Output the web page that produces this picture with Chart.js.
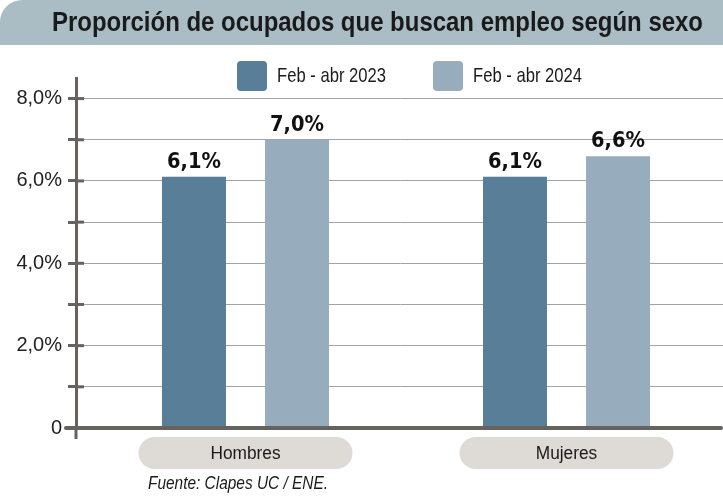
<!DOCTYPE html>
<html>
<head>
<meta charset="utf-8">
<script src="https://cdn.jsdelivr.net/npm/chart.js@4.4.1/dist/chart.umd.min.js"></script>
<style>
  html, body { margin: 0; padding: 0; background: #fff; }
  #wrap { width: 723px; height: 498px; position: relative; }
</style>
</head>
<body>
<div id="wrap"><canvas id="grafico"></canvas></div>
<script>
// Datos del gráfico
const titulo = 'Proporción de ocupados que buscan empleo según sexo';
const fuente = 'Fuente: Clapes UC / ENE.';
const categorias = ['Hombres', 'Mujeres'];
const series = ['Feb - abr 2023', 'Feb - abr 2024'];
const valores2023 = [6.1, 6.1];
const valores2024 = [7.0, 6.6];
const colores = ['#587e98', '#97adbe'];
const ticksY = [0, 1, 2, 3, 4, 5, 6, 7, 8];

const EJE = '#66625e';
const FUENTE_TXT = '"Liberation Sans", Arial, sans-serif';

function fmtPct(v) {
  return v.toFixed(1).replace('.', ',') + '%';
}

// Banda de título, leyenda, etiquetas, píldoras de categorías y fuente
const decoracion = {
  id: 'decoracion',
  beforeDraw(chart) {
    const ctx = chart.ctx;
    ctx.save();
    ctx.fillStyle = '#fff';
    ctx.fillRect(0, 0, chart.width, chart.height);
    // banda del título
    ctx.fillStyle = '#aabdc4';
    ctx.beginPath();
    ctx.roundRect(0, 0, chart.width + 30, 45, [22, 0, 0, 0]);
    ctx.fill();
    ctx.fillStyle = '#1a1a1a';
    ctx.font = 'bold 27px ' + FUENTE_TXT;
    ctx.textBaseline = 'alphabetic';
    ctx.textAlign = 'left';
    ctx.fillText(titulo, 52, 31, 651);
    // leyenda
    const posLeyenda = [237, 433];
    ctx.font = '21px ' + FUENTE_TXT;
    series.forEach((s, i) => {
      ctx.fillStyle = colores[i];
      ctx.beginPath();
      ctx.roundRect(posLeyenda[i], 61, 30, 30, 4);
      ctx.fill();
      ctx.fillStyle = '#1a1a1a';
      ctx.fillText(s, posLeyenda[i] + 40, 82, 109);
    });
    ctx.restore();
  },
  afterDatasetsDraw(chart) {
    const ctx = chart.ctx;
    const y = chart.scales.y;
    const area = chart.chartArea;
    const y0 = y.getPixelForValue(0);
    ctx.save();
    ctx.strokeStyle = EJE;
    // extensión del eje vertical bajo el cero
    ctx.lineWidth = 3;
    ctx.beginPath();
    ctx.moveTo(area.left, y0);
    ctx.lineTo(area.left, y0 + 11);
    ctx.stroke();
    // marcas a la derecha del eje
    y.ticks.forEach(t => {
      if (t.value === 0) return;
      const py = y.getPixelForValue(t.value);
      ctx.beginPath();
      ctx.moveTo(area.left, py);
      ctx.lineTo(area.left + 8, py);
      ctx.stroke();
    });
    // línea del cero
    ctx.lineWidth = 4;
    ctx.lineCap = 'round';
    ctx.beginPath();
    ctx.moveTo(area.left - 10, y0);
    ctx.lineTo(area.right - 2, y0);
    ctx.stroke();
    // etiquetas de valores
    ctx.fillStyle = '#111';
    ctx.font = 'bold 21px "DejaVu Sans", sans-serif';
    ctx.textAlign = 'center';
    ctx.textBaseline = 'alphabetic';
    chart.data.datasets.forEach((ds, di) => {
      chart.getDatasetMeta(di).data.forEach((bar, i) => {
        ctx.fillText(fmtPct(ds.data[i].y), bar.x, bar.y - 9, 54);
      });
    });
    ctx.restore();
  },
  afterDraw(chart) {
    const ctx = chart.ctx;
    const x = chart.scales.x;
    ctx.save();
    ctx.textAlign = 'center';
    ctx.textBaseline = 'alphabetic';
    ctx.font = '18px ' + FUENTE_TXT;
    categorias.forEach((c, i) => {
      const cx = x.getPixelForValue(i);
      ctx.fillStyle = '#dedbd7';
      ctx.beginPath();
      ctx.roundRect(cx - 107, 437, 214, 32, 16);
      ctx.fill();
      ctx.fillStyle = '#1a1a1a';
      ctx.fillText(c, cx, 459, ctx.measureText(c).width * 0.96);
    });
    ctx.textAlign = 'left';
    ctx.font = 'italic 18px ' + FUENTE_TXT;
    ctx.fillStyle = '#1a1a1a';
    ctx.fillText(fuente, 148, 489, 180);
    ctx.restore();
  }
};

const ctx = document.getElementById('grafico').getContext('2d');
new Chart(ctx, {
  type: 'bar',
  data: {
    datasets: [
      {
        label: series[0],
        data: categorias.map((c, i) => ({ x: i, y: valores2023[i] })),
        backgroundColor: colores[0]
      },
      {
        label: series[1],
        data: categorias.map((c, i) => ({ x: i, y: valores2024[i] })),
        backgroundColor: colores[1]
      }
    ]
  },
  options: {
    responsive: true,
    maintainAspectRatio: false,
    animation: false,
    barPercentage: 0.621,
    categoryPercentage: 0.642,
    layout: { padding: { top: 78, bottom: 70, left: 0, right: 0 } },
    scales: {
      x: {
        type: 'linear',
        offset: false,
        min: -0.528,
        max: 1.4875,
        afterBuildTicks: s => { s.ticks = categorias.map((c, i) => ({ value: i })); },
        afterFit: s => { s.height = 0; },
        grid: { display: false, offset: false },
        border: { display: false },
        ticks: { display: false }
      },
      y: {
        min: 0,
        max: 8.5,
        afterBuildTicks: s => { s.ticks = ticksY.map(v => ({ value: v })); },
        afterFit: s => { s.width = 76; },
        grid: {
          color: c => (c.tick && c.tick.value === 0) ? 'rgba(0,0,0,0)' : '#a3a3a3',
          lineWidth: 1,
          tickLength: 8,
          tickColor: EJE,
          tickWidth: c => (c.tick && c.tick.value === 0) ? 0 : 3
        },
        border: { display: true, color: EJE, width: 3 },
        ticks: {
          padding: 6,
          color: '#222',
          font: { family: 'Liberation Sans', size: 20 },
          callback: v => v === 0 ? '0' : (v % 2 === 0 ? fmtPct(v) : '')
        }
      }
    },
    plugins: {
      legend: { display: false },
      tooltip: { enabled: false },
      title: { display: false }
    }
  },
  plugins: [decoracion]
});
</script>
</body>
</html>
